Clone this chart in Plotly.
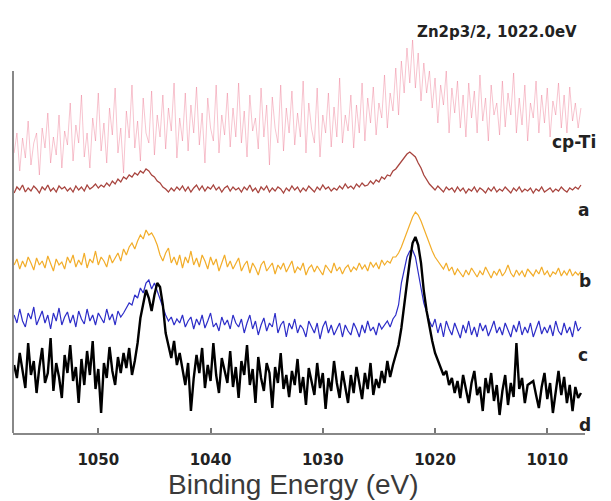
import numpy as np
import plotly.graph_objects as go

# Binding energy grid (eV), 0.25 eV step from 1057.5 down to 1007.0
binding_energy = np.linspace(1057.5, 1007.0, 203)

# Intensities (a.u., stacked as in the figure)
cp_ti = [280, 300, 262, 295, 275, 312, 268, 290, 300, 258, 305, 285, 320, 270, 296, 278, 318, 265, 302, 288,
         330, 272, 308, 290, 338, 276, 300, 265, 315, 292, 340, 282, 310, 270, 325, 298, 345, 280, 305, 260,
         322, 295, 348, 285, 312, 272, 335, 300, 290, 342, 278, 318, 296, 338, 284, 325, 302, 350, 275, 315,
         292, 340, 282, 328, 300, 346, 288, 320, 270, 335, 305, 292, 348, 280, 318, 298, 340, 286, 325, 296,
         350, 290, 322, 276, 338, 302, 315, 284, 345, 296, 328, 268, 336, 305, 290, 348, 282, 325, 300, 342,
         288, 320, 296, 352, 280, 330, 304, 290, 345, 276, 318, 300, 340, 286, 326, 296, 355, 290, 318, 302,
         338, 285, 328, 300, 350, 292, 335, 310, 346, 298, 330, 315, 358, 305, 340, 322, 365, 318, 372, 340,
         385, 350, 393, 345, 380, 332, 370, 340, 362, 325, 355, 310, 348, 328, 362, 300, 345, 320, 352, 305,
         338, 296, 350, 315, 342, 300, 358, 312, 335, 292, 348, 318, 330, 298, 352, 306, 340, 318, 360, 300,
         335, 308, 348, 292, 330, 315, 352, 300, 338, 310, 345, 296, 332, 318, 350, 305, 338, 300, 346, 312,
         330, 305, 325]

sample_a = [240, 246, 243, 248, 241, 245, 242, 247, 244, 240, 246, 243, 248, 242, 245, 241, 247, 244, 246, 242,
            245, 241, 247, 243, 246, 242, 248, 244, 246, 249, 245, 248, 246, 250, 247, 252, 249, 254, 251, 256,
            254, 258, 256, 260, 258, 262, 260, 264, 262, 258, 256, 252, 250, 246, 244, 241, 245, 242, 246, 243,
            247, 242, 246, 241, 245, 248, 243, 247, 242, 246, 244, 248, 243, 246, 241, 245, 247, 242, 246, 243,
            245, 241, 246, 243, 248, 242, 245, 240, 246, 243, 247, 241, 245, 242, 246, 244, 240, 245, 242, 247,
            243, 246, 241, 245, 242, 247, 244, 241, 246, 243, 248, 244, 246, 242, 245, 243, 247, 244, 249, 245,
            247, 244, 249, 246, 250, 247, 248, 252, 249, 253, 251, 256, 254, 258, 257, 262, 264, 268, 272, 275,
            279, 281, 278, 276, 270, 265, 258, 253, 249, 246, 243, 247, 244, 241, 246, 243, 245, 241, 246, 242,
            245, 240, 244, 242, 246, 241, 245, 243, 240, 245, 242, 246, 241, 244, 242, 246, 243, 240, 245, 242,
            246, 241, 244, 242, 245, 240, 244, 242, 246, 241, 243, 245, 241, 244, 242, 246, 243, 241, 245, 243,
            246, 244, 248]

sample_b = [168, 174, 164, 172, 166, 176, 170, 163, 175, 168, 172, 165, 177, 169, 162, 174, 168, 171, 164, 176,
            170, 178, 166, 173, 168, 180, 165, 174, 170, 182, 168, 176, 172, 166, 178, 170, 175, 180, 172, 184,
            178, 186, 190, 184, 192, 198, 194, 203, 198, 200, 195, 188, 178, 172, 180, 185, 170, 176, 168, 178,
            165, 176, 170, 182, 168, 175, 166, 178, 172, 164, 176, 168, 174, 162, 170, 178, 166, 172, 164, 170,
            175, 162, 168, 172, 160, 170, 165, 158, 168, 172, 162, 166, 170, 159, 168, 164, 170, 161, 166, 172,
            160, 166, 163, 170, 158, 165, 168, 161, 167, 162, 158, 168, 164, 160, 170, 162, 166, 159, 165, 168,
            161, 166, 163, 170, 164, 168, 162, 171, 166, 170, 164, 173, 168, 172, 170, 176, 176, 180, 186, 194,
            202, 210, 216, 221, 218, 212, 204, 196, 188, 182, 176, 172, 168, 164, 170, 162, 166, 158, 164, 160,
            156, 163, 158, 165, 160, 156, 162, 158, 166, 160, 155, 162, 158, 164, 157, 161, 168, 160, 156, 163,
            158, 162, 156, 164, 160, 157, 163, 159, 166, 158, 162, 156, 161, 159, 165, 157, 162, 158, 164, 157,
            161, 158, 162]

sample_c = [118, 110, 124, 112, 106, 120, 114, 126, 108, 116, 122, 110, 118, 104, 120, 112, 125, 108, 116, 121,
            110, 118, 106, 122, 114, 109, 124, 112, 118, 108, 120, 115, 110, 124, 113, 119, 108, 122, 116, 120,
            125, 130, 128, 138, 135, 145, 140, 150, 153, 144, 150, 142, 135, 125, 118, 112, 116, 108, 114, 110,
            118, 106, 112, 116, 104, 114, 108, 118, 105, 112, 120, 106, 110, 102, 116, 108, 113, 104, 118, 110,
            106, 114, 100, 110, 118, 104, 112, 98, 108, 115, 102, 110, 106, 120, 100, 108, 112, 96, 110, 104,
            114, 100, 108, 104, 96, 112, 106, 100, 110, 94, 106, 112, 100, 108, 98, 104, 110, 96, 108, 102,
            98, 110, 104, 96, 108, 100, 112, 102, 106, 98, 110, 104, 108, 112, 106, 114, 118, 128, 150, 162,
            176, 182, 183, 176, 162, 145, 130, 120, 112, 106, 114, 100, 110, 96, 112, 104, 98, 110, 102, 95,
            108, 100, 112, 98, 106, 96, 110, 102, 108, 97, 104, 112, 100, 106, 98, 110, 103, 96, 108, 101,
            112, 98, 106, 100, 110, 96, 104, 112, 99, 106, 100, 108, 97, 112, 102, 98, 110, 100, 106, 96,
            112, 102, 106]

sample_d = [68, 55, 80, 62, 45, 90, 58, 72, 40, 66, 85, 50, 60, 95, 42, 70, 56, 35, 78, 60,
            88, 52, 66, 30, 74, 48, 82, 58, 92, 44, 64, 20, 70, 55, 86, 62, 48, 76, 60, 80,
            65, 85, 58, 72, 90, 115, 130, 143, 135, 122, 138, 150, 146, 128, 100, 88, 75, 92, 68, 80,
            62, 48, 70, 22, 55, 78, 60, 85, 45, 68, 52, 90, 58, 40, 75, 62, 50, 82, 46, 66,
            35, 72, 58, 88, 48, 64, 30, 76, 55, 42, 70, 60, 25, 66, 50, 80, 44, 58, 36, 62,
            48, 74, 40, 56, 28, 65, 52, 38, 70, 45, 60, 24, 55, 42, 72, 50, 35, 62, 46, 30,
            58, 40, 66, 48, 34, 60, 44, 70, 38, 54, 45, 62, 50, 72, 56, 68, 78, 88, 105, 125,
            150, 172, 190, 196, 188, 170, 142, 122, 105, 92, 80, 72, 66, 58, 62, 48, 55, 40, 52, 35,
            58, 44, 30, 50, 62, 38, 46, 22, 55, 40, 60, 32, 48, 18, 42, 58, 28, 50, 36, 90,
            44, 55, 30, 48, 50, 52, 38, 25, 46, 60, 34, 50, 20, 44, 62, 38, 56, 30, 48, 22,
            46, 35, 40]

series_names = ["cp-Ti", "a", "b", "c", "d"]
series_values = [cp_ti, sample_a, sample_b, sample_c, sample_d]
series_colors = ["rgba(235,110,135,0.45)", "#a8453f", "#f2ad2a", "#2d2dc8", "#000000"]
series_widths = [0.9, 1.3, 1.2, 1.2, 2.4]

# label anchors: (fraction of plot width, intensity)
label_pos = [(0.981, 291), (0.997, 223), (1.0, 152), (0.997, 78), (1.0, 8)]

tick_values = [1050, 1040, 1030, 1020, 1010]

fig = go.Figure()
for name, vals, col, w in zip(series_names, series_values, series_colors, series_widths):
    fig.add_trace(go.Scatter(x=binding_energy, y=vals, mode="lines", name=name,
                             line=dict(color=col, width=w), showlegend=False))

for name, (px, iy) in zip(series_names, label_pos):
    fig.add_annotation(x=px, y=iy, xref="paper", yref="y", text=name, showarrow=False,
                       xanchor="center", yanchor="middle",
                       font=dict(family="DejaVu Sans", size=17, color="#222", weight="bold"))

fig.add_annotation(x=1014.5, y=1.008, xref="x", yref="paper", text="Zn2p3/2, 1022.0eV",
                   showarrow=False, xanchor="center", yanchor="middle",
                   font=dict(family="DejaVu Sans", size=15, color="#222", weight="bold"))

fig.add_annotation(x=0.491, y=-0.0854, xref="paper", yref="paper", text="Binding Energy (eV)",
                   showarrow=False, xanchor="center", yanchor="top",
                   font=dict(family="Liberation Sans", size=28, color="#3a3a3a"))

# left axis line (shorter than plotting area)
fig.add_shape(type="line", xref="paper", yref="y", x0=0, x1=0, y0=0, y1=362,
              line=dict(color="#888", width=2))

fig.update_xaxes(range=[1057.6, 1006.64], tickvals=tick_values, ticks="inside", ticklen=5,
                 tickwidth=1.5, tickcolor="#777", showline=True, linecolor="#888", linewidth=2,
                 showgrid=False, zeroline=False, ticklabelstandoff=12,
                 tickfont=dict(family="DejaVu Sans", size=15, color="#222", weight="bold"))
fig.update_yaxes(range=[0, 398], visible=False, showgrid=False, zeroline=False)

fig.update_layout(width=603, height=493, margin=dict(l=5, r=26, t=27, b=68),
                  plot_bgcolor="white", paper_bgcolor="white")

fig.write_html("out.html")
